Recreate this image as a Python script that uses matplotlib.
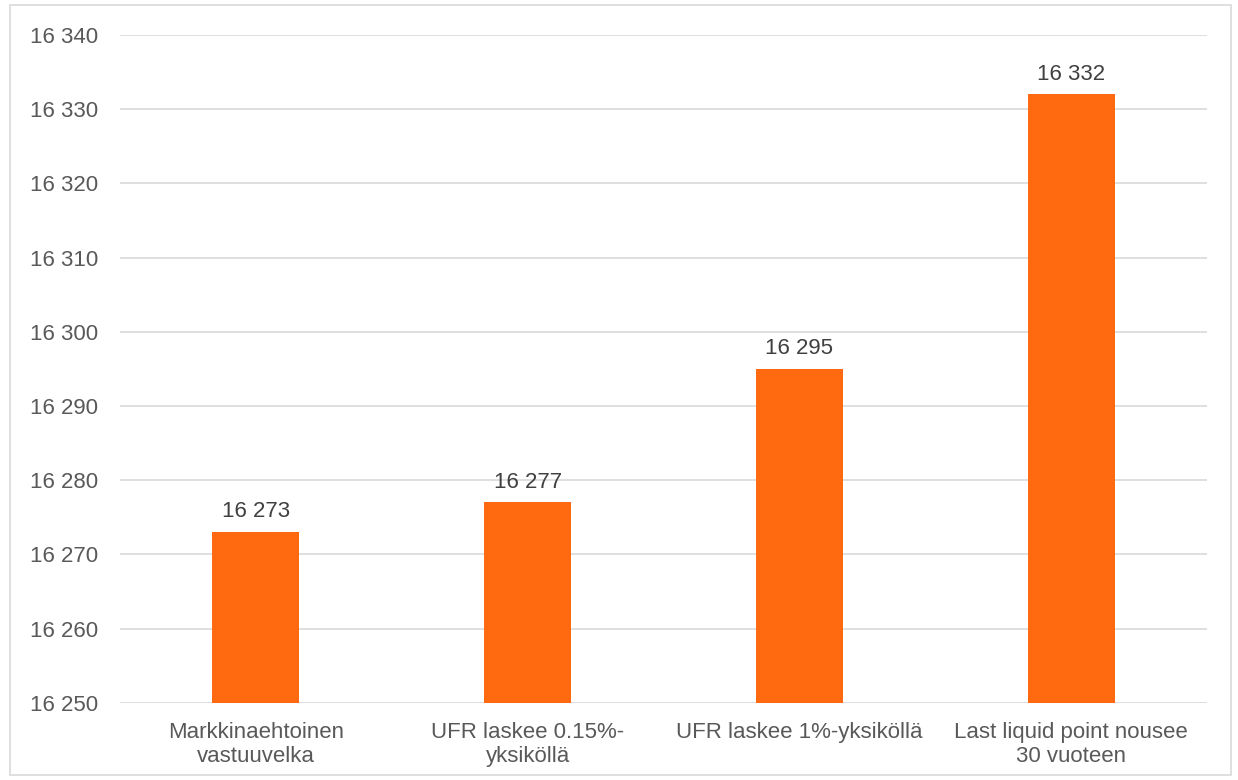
import matplotlib
matplotlib.use('Agg')
import matplotlib.pyplot as plt
import matplotlib.patches as mpatches
from matplotlib.ticker import FuncFormatter

plt.rcParams['font.family'] = ['Liberation Sans', 'DejaVu Sans']

# Data
categories = ['Markkinaehtoinen\nvastuuvelka', 'UFR laskee 0.15%-\nyksiköllä',
              'UFR laskee 1%-yksiköllä', 'Last liquid point nousee\n30 vuoteen']
values = [16273, 16277, 16295, 16332]

BAR_COLOR = '#FF6A10'
TEXT_COLOR = '#595959'
GRID_COLOR = '#D9D9D9'
FS = 16


def fmt(v, pos=None):
    return f'{int(round(v)):,}'.replace(',', ' ')


fig = plt.figure(figsize=(12.38, 7.8), dpi=100)
ax = fig.add_axes([0.097, 0.099, 0.878, 0.856])

x = range(len(categories))
ax.bar(x, values, width=0.32, color=BAR_COLOR, zorder=3)

for xi, v in zip(x, values):
    ax.annotate(fmt(v), (xi, v), xytext=(0, 7), textcoords='offset points',
                ha='center', va='bottom', fontsize=FS, color='#404040')

ax.set_ylim(16250, 16340)
ax.set_xlim(-0.5, len(categories) - 0.5)
ax.set_yticks(range(16250, 16341, 10))
ax.yaxis.set_major_formatter(FuncFormatter(fmt))
ax.set_xticks(list(x))
ax.set_xticklabels(categories, fontsize=FS, color=TEXT_COLOR, linespacing=1.18)
ax.tick_params(axis='y', labelsize=FS, labelcolor=TEXT_COLOR, length=0, pad=65)
ax.tick_params(axis='x', length=0, pad=14)
for lbl in ax.get_yticklabels():
    lbl.set_horizontalalignment('left')

ax.grid(axis='y', color=GRID_COLOR, linewidth=1.2, zorder=0)
for s in ax.spines.values():
    s.set_visible(False)

# light border around the chart
fig.patches.append(mpatches.Rectangle((0.008, 0.006), 0.986, 0.988, transform=fig.transFigure,
                                      fill=False, edgecolor='#D9D9D9', linewidth=1.2))

fig.savefig('out.png', dpi=100, facecolor='white')
